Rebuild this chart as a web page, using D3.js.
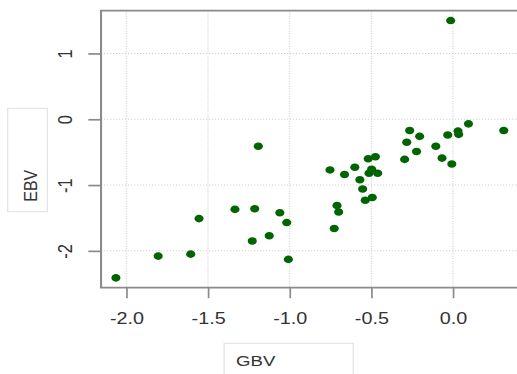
<!DOCTYPE html>
<meta charset="utf-8">
<style>
html, body { margin: 0; padding: 0; overflow: hidden; background: #fff; }
svg { display: block; }
text { font-family: "Liberation Sans", Arial, sans-serif; fill: #333; }
</style>
<svg></svg>
<script src="https://d3js.org/d3.v7.min.js"></script>
<script>
// GBV vs EBV values
var gbv = [-0.014, -2.064, -1.805, -1.606, -1.555, -1.335, -1.214, -1.192, -1.229, -1.125,
           -1.060, -1.018, -1.008, -0.753, -0.727, -0.710, -0.700, -0.664, -0.601, -0.570,
           -0.553, -0.537, -0.494, -0.519, -0.475, -0.514, -0.498, -0.461, -0.296, -0.283,
           -0.265, -0.204, -0.223, -0.105, -0.067, -0.007, -0.032, 0.031, 0.035, 0.095, 0.311];
var ebv = [1.50, -2.41, -2.08, -2.05, -1.51, -1.37, -1.36, -0.41, -1.85, -1.77,
           -1.42, -1.57, -2.13, -0.77, -1.66, -1.31, -1.41, -0.84, -0.73, -0.92,
           -1.06, -1.23, -1.19, -0.60, -0.57, -0.82, -0.76, -0.82, -0.61, -0.35,
           -0.17, -0.26, -0.49, -0.41, -0.59, -0.68, -0.24, -0.18, -0.23, -0.07, -0.17];
var xTicks = [-2.0, -1.5, -1.0, -0.5, 0.0];
var yTicks = [1, 0, -1, -2];

var W = 517, H = 374;
var sx = 1.2;            // the picture is stretched sideways
var w = W / sx;

var svg = d3.select("svg")
    .attr("width", W)
    .attr("height", H)
    .attr("viewBox", "0 0 " + w + " " + H)
    .attr("preserveAspectRatio", "none");

var pLeft = 84.2, pTop = 10.7, pBottom = 287.7, pRight = 431.9;

var x = d3.scaleLinear().domain([-2.155, 0.4]).range([pLeft, pRight]);
var y = d3.scaleLinear().domain([-2.56, 1.65]).range([pBottom, pTop]);

function fmt(v) { return v.toFixed(1).replace("\u2212", "-"); }

// grid
var grid = svg.append("g").attr("class", "grid")
    .attr("stroke", "#cfcfcf")
    .attr("stroke-width", 1)
    .attr("stroke-dasharray", "1,1.5");
grid.selectAll("line.v").data(xTicks).enter().append("line")
    .attr("x1", function(d) { return x(d); })
    .attr("x2", function(d) { return x(d); })
    .attr("y1", pTop).attr("y2", pBottom);
grid.selectAll("line.h").data(yTicks).enter().append("line")
    .attr("y1", function(d) { return y(d); })
    .attr("y2", function(d) { return y(d); })
    .attr("x1", pLeft).attr("x2", pRight);

// points
svg.append("g")
    .selectAll("ellipse")
    .data(gbv)
    .enter().append("ellipse")
    .attr("cx", function(d) { return x(d); })
    .attr("cy", function(d, i) { return y(ebv[i]); })
    .attr("rx", 3.8)
    .attr("ry", 3.8)
    .attr("fill", "#006400");

// box (right side is off the picture)
svg.append("path")
    .attr("d", "M" + (pRight + 20) + "," + pTop + "H" + pLeft + "V" + pBottom + "H" + (pRight + 20))
    .attr("fill", "none")
    .attr("stroke", "#8a8a8a")
    .attr("stroke-width", 1.7);

// x axis
var xa = svg.append("g").attr("transform", "translate(0," + pBottom + ")")
    .call(d3.axisBottom(x).tickValues(xTicks).tickSize(10.5).tickFormat(fmt));
xa.select(".domain").remove();
xa.selectAll("line").attr("stroke", "#8a8a8a").attr("stroke-width", 1.4);
xa.selectAll("text")
    .attr("y", 0).attr("dy", null)
    .attr("transform", "translate(0,36.5)")
    .style("font-family", '"Liberation Sans", Arial, sans-serif')
    .style("font-size", "16.5px")
    .attr("fill", "#333");

// y axis
var ya = svg.append("g").attr("transform", "translate(" + pLeft + ",0)")
    .call(d3.axisLeft(y).tickValues(yTicks).tickSize(10.6).tickFormat(function(d) { return String(d); }));
ya.select(".domain").remove();
ya.selectAll("line").attr("stroke", "#8a8a8a").attr("stroke-width", 1.7);
ya.selectAll("text")
    .attr("x", 0).attr("dy", null)
    .attr("text-anchor", "middle")
    .attr("transform", "translate(-24.5,0) rotate(-90)")
    .style("font-family", '"Liberation Sans", Arial, sans-serif')
    .style("font-size", "16.5px")
    .attr("fill", "#333");

// axis title boxes
svg.append("rect")
    .attr("x", 6.4).attr("y", 108.3)
    .attr("width", 33).attr("height", 103.4)
    .attr("fill", "#fff").attr("stroke", "#e2e2e2").attr("stroke-width", 1);
svg.append("text")
    .attr("transform", "translate(30.8,201.7) rotate(-90)")
    .style("font-size", "16px")
    .attr("fill", "#222")
    .text("EBV");

svg.append("rect")
    .attr("x", 186.7).attr("y", 343.3)
    .attr("width", 107.7).attr("height", 40)
    .attr("fill", "#fff").attr("stroke", "#e2e2e2").attr("stroke-width", 1);
svg.append("text")
    .attr("x", 196.7).attr("y", 366)
    .style("font-size", "15.5px")
    .attr("fill", "#222")
    .text("GBV");
</script>
